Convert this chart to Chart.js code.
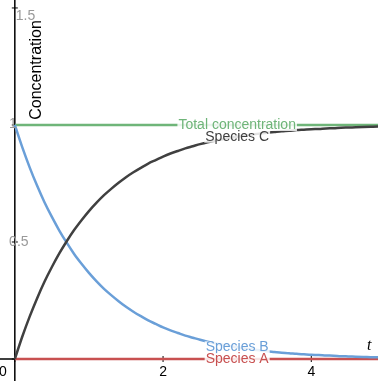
<!DOCTYPE html>
<html>
<head>
<meta charset="utf-8">
<script src="https://cdn.jsdelivr.net/npm/chart.js@4"></script>
<style>
  html, body { margin: 0; padding: 0; background: #fff; }
  #wrap { width: 378px; height: 381px; }
</style>
</head>
<body>
<div id="wrap"><canvas id="chart"></canvas></div>
<script>
const tValues = [0, 0.1, 0.2, 0.3, 0.4, 0.5, 0.6, 0.7, 0.8, 0.9,
    1, 1.1, 1.2, 1.3, 1.4, 1.5, 1.6, 1.7, 1.8, 1.9,
    2, 2.1, 2.2, 2.3, 2.4, 2.5, 2.6, 2.7, 2.8, 2.9,
    3, 3.1, 3.2, 3.3, 3.4, 3.5, 3.6, 3.7, 3.8, 3.9,
    4, 4.1, 4.2, 4.3, 4.4, 4.5, 4.6, 4.7, 4.8, 4.9, 5];
const speciesB = [1, 0.905, 0.819, 0.741, 0.670, 0.607, 0.549, 0.497, 0.449, 0.407,
    0.368, 0.333, 0.301, 0.273, 0.247, 0.223, 0.202, 0.183, 0.165, 0.150,
    0.135, 0.122, 0.111, 0.100, 0.091, 0.082, 0.074, 0.067, 0.061, 0.055,
    0.050, 0.045, 0.041, 0.037, 0.033, 0.030, 0.027, 0.025, 0.022, 0.020,
    0.018, 0.017, 0.015, 0.014, 0.012, 0.011, 0.010, 0.009, 0.008, 0.007, 0.007];
const speciesC = [0, 0.095, 0.181, 0.259, 0.330, 0.393, 0.451, 0.503, 0.551, 0.593,
    0.632, 0.667, 0.699, 0.727, 0.753, 0.777, 0.798, 0.817, 0.835, 0.850,
    0.865, 0.878, 0.889, 0.900, 0.909, 0.918, 0.926, 0.933, 0.939, 0.945,
    0.950, 0.955, 0.959, 0.963, 0.967, 0.970, 0.973, 0.975, 0.978, 0.980,
    0.982, 0.983, 0.985, 0.986, 0.988, 0.989, 0.990, 0.991, 0.992, 0.993, 0.993];
const flatT = [0, 5];
const speciesA = [0, 0];
const totalConc = [1, 1];
const xTicks = [0, 2, 4];
const yTicks = [0, 0.5, 1, 1.5];

const colors = {
    a: '#c85050',
    b: '#6a9fd8',
    c: '#404040',
    total: '#6fb579'
};

// curve labels: text, t, value, colour
const curveLabels = [
    ['Total concentration', 3.0, 1, colors.total],
    ['Species C', 3.0, 0.95, colors.c],
    ['Species B', 3.0, 0.05, colors.b],
    ['Species A', 3.0, 0, colors.a]
];

const axesPlugin = {
    id: 'axesPlugin',
    beforeDatasetsDraw(chart) {
        const ctx = chart.ctx;
        const xs = chart.scales.x;
        const ys = chart.scales.y;
        const x0 = xs.getPixelForValue(0);
        const y0 = ys.getPixelForValue(0);
        ctx.save();
        ctx.strokeStyle = '#000';
        ctx.lineWidth = 1.5;
        ctx.beginPath();
        ctx.moveTo(x0, ys.getPixelForValue(ys.max));
        ctx.lineTo(x0, ys.getPixelForValue(ys.min));
        ctx.moveTo(xs.getPixelForValue(xs.min), y0);
        ctx.lineTo(xs.getPixelForValue(xs.max), y0);
        ctx.stroke();

        ctx.lineWidth = 1;
        yTicks.forEach(v => {
            const py = ys.getPixelForValue(v);
            ctx.beginPath();
            ctx.moveTo(x0 - 3, py);
            ctx.lineTo(x0 + 3, py);
            ctx.stroke();
        });
        xTicks.forEach(v => {
            const px = xs.getPixelForValue(v);
            ctx.beginPath();
            ctx.moveTo(px, y0 - 3);
            ctx.lineTo(px, y0 + 3);
            ctx.stroke();
        });
        ctx.restore();
    },
    afterDatasetsDraw(chart) {
        const ctx = chart.ctx;
        const xs = chart.scales.x;
        const ys = chart.scales.y;
        const x0 = xs.getPixelForValue(0);
        const y0 = ys.getPixelForValue(0);
        ctx.save();

        // y tick labels
        ctx.font = '14px "Liberation Sans", Arial, sans-serif';
        ctx.textBaseline = 'middle';
        ctx.fillStyle = '#999';
        yTicks.forEach(v => {
            if (v === 0) return;
            const py = ys.getPixelForValue(v);
            const label = String(v);
            ctx.textAlign = v === 1.5 ? 'left' : 'center';
            if (v === 1.5) ctx.fillText(label, x0 + 1, py + 8);
            else if (v === 1) ctx.fillText(label, x0 - 2, py - 1);
            else ctx.fillText(label, x0 + 4, py);
        });

        // x tick labels
        ctx.textAlign = 'center';
        ctx.textBaseline = 'top';
        ctx.fillStyle = '#000';
        xTicks.forEach(v => {
            const px = xs.getPixelForValue(v);
            if (v === 0) ctx.fillText('0', px - 12, y0 + 6);
            else ctx.fillText(String(v), px, y0 + 6);
        });

        // curve labels with white backing
        ctx.textBaseline = 'middle';
        curveLabels.forEach(([text, vx, vy, color]) => {
            const px = xs.getPixelForValue(vx);
            const py = ys.getPixelForValue(vy);
            const w = ctx.measureText(text).width;
            ctx.fillStyle = 'rgba(255,255,255,0.85)';
            ctx.fillRect(px - w / 2 - 1, py - 6, w + 2, 12);
            ctx.fillStyle = color;
            ctx.fillText(text, px, py);
        });

        // axis titles
        ctx.fillStyle = '#000';
        ctx.font = 'italic 16px "Liberation Serif", "Times New Roman", serif';
        ctx.textBaseline = 'bottom';
        ctx.fillText('t', xs.getPixelForValue(4.78), y0 - 5);

        ctx.font = '16px "Liberation Sans", Arial, sans-serif';
        ctx.translate(x0 + 22, ys.getPixelForValue(1.235));
        ctx.rotate(-Math.PI / 2);
        ctx.textBaseline = 'middle';
        ctx.fillText('Concentration', 0, 0);
        ctx.restore();
    }
};

function line(label, xs, values, color) {
    return {
        label: label,
        data: xs.map((t, i) => ({ x: t, y: values[i] })),
        borderColor: color,
        borderWidth: 2.5,
        pointRadius: 0,
        fill: false,
        cubicInterpolationMode: 'monotone'
    };
}

new Chart(document.getElementById('chart'), {
    type: 'line',
    data: {
        datasets: [
            line('Species C', tValues, speciesC, colors.c),
            line('Species B', tValues, speciesB, colors.b),
            line('Total concentration', flatT, totalConc, colors.total),
            line('Species A', flatT, speciesA, colors.a)
        ]
    },
    options: {
        responsive: true,
        maintainAspectRatio: false,
        animation: false,
        layout: { padding: 0 },
        plugins: {
            legend: { display: false },
            tooltip: { enabled: false }
        },
        scales: {
            x: { type: 'linear', min: -0.2, max: 4.9, display: false },
            y: { type: 'linear', min: -0.094, max: 1.534, display: false }
        }
    },
    plugins: [axesPlugin]
});
</script>
</body>
</html>
